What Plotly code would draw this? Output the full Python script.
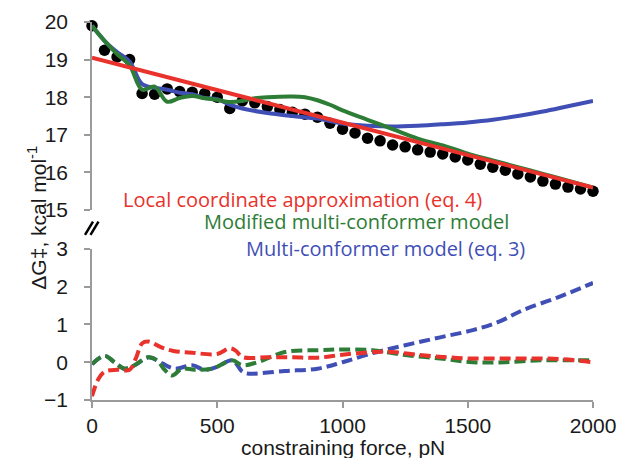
import plotly.graph_objects as go

# ---------------- data ----------------
force_dots = list(range(0, 2001, 50))
dG_dots = [19.9, 19.25, 19.07, 19.0, 18.1, 18.08, 18.22, 18.15, 18.13, 18.1,
           18.0, 17.7, 17.9, 17.85, 17.75, 17.67, 17.6, 17.55, 17.47, 17.31,
           17.15, 17.05, 16.91, 16.84, 16.73, 16.68, 16.6, 16.54, 16.49, 16.41,
           16.33, 16.22, 16.14, 16.06, 15.96, 15.88, 15.77, 15.69, 15.61, 15.56, 15.5]

force_red = [0, 2000]
dG_red = [19.05, 15.6]

force_blue = [0, 50, 100, 150, 200, 250, 300, 350, 400, 450, 500, 550, 600, 700, 800,
              900, 1000, 1100, 1200, 1300, 1400, 1500, 1600, 1700, 1800, 1900, 2000]
dG_blue = [19.9, 19.5, 19.2, 18.95, 18.35, 18.25, 18.2, 18.12, 18.08, 17.98, 17.95,
           17.8, 17.7, 17.58, 17.5, 17.43, 17.3, 17.24, 17.22, 17.24, 17.28, 17.33,
           17.4, 17.5, 17.62, 17.76, 17.9]

force_green = [0, 50, 100, 150, 200, 250, 300, 350, 400, 450, 500, 550, 600, 650, 700,
               800, 850, 900, 950, 1000, 1100, 1200, 1300, 1400, 1500, 1600, 1700,
               1800, 1900, 2000]
dG_green = [19.9, 19.5, 19.15, 18.85, 18.2, 18.28, 17.88, 17.98, 18.03, 17.97, 17.93,
            17.87, 17.9, 17.97, 18.0, 18.02, 18.0, 17.92, 17.8, 17.65, 17.4, 17.15,
            16.9, 16.72, 16.5, 16.32, 16.14, 15.96, 15.78, 15.6]

force_red_d = [0, 25, 50, 100, 150, 175, 200, 225, 275, 325, 400, 500, 550, 575, 600,
               700, 800, 900, 1000, 1100, 1150, 1200, 1300, 1400, 1500, 1600, 1700,
               1800, 1900, 2000]
diff_red = [-0.9, -0.45, -0.25, -0.2, -0.2, 0.1, 0.5, 0.55, 0.4, 0.3, 0.25, 0.22, 0.37,
            0.3, 0.14, 0.13, 0.13, 0.12, 0.2, 0.26, 0.28, 0.27, 0.2, 0.14, 0.1, 0.1,
            0.1, 0.1, 0.07, 0.0]

force_green_d = [0, 50, 90, 130, 170, 225, 260, 290, 320, 360, 410, 480, 560, 600,
                 660, 770, 900, 1000, 1120, 1250, 1390, 1520, 1650, 1790, 1920, 2000]
diff_green = [-0.05, 0.17, 0.0, -0.17, -0.08, 0.13, 0.05, -0.2, -0.35, -0.17, -0.2,
              -0.17, 0.05, -0.08, 0.0, 0.27, 0.32, 0.34, 0.32, 0.19, 0.1, 0.0, 0.0,
              0.05, 0.05, 0.05]

force_blue_d = [0, 50, 90, 130, 170, 225, 280, 330, 400, 450, 500, 560, 600, 620, 770,
                900, 1000, 1120, 1250, 1390, 1520, 1620, 1720, 1860, 2000]
diff_blue = [-0.05, 0.17, 0.0, -0.17, -0.08, 0.13, -0.03, -0.17, -0.08, -0.2, -0.12,
             0.05, -0.25, -0.3, -0.23, -0.17, 0.0, 0.24, 0.45, 0.66, 0.85, 1.06, 1.38,
             1.72, 2.1]

x_ticks = [0, 500, 1000, 1500, 2000]
top_ticks = [15, 16, 17, 18, 19, 20]
bottom_ticks = [-1, 0, 1, 2, 3]

label_texts = ["Local coordinate approximation (eq. 4)",
               "Modified multi-conformer model",
               "Multi-conformer model (eq. 3)"]

RED = "#e8322b"
GREEN = "#2d7d36"
BLUE = "#3f4fb5"

# ---------------- figure ----------------
fig = go.Figure()

# top panel
fig.add_trace(go.Scatter(x=force_dots, y=dG_dots, yaxis="y2", mode="markers",
                         marker=dict(color="black", size=11.5), cliponaxis=False))
fig.add_trace(go.Scatter(x=force_blue, y=dG_blue, yaxis="y2", mode="lines",
                         line=dict(color=BLUE, width=4, shape="spline")))
fig.add_trace(go.Scatter(x=force_green, y=dG_green, yaxis="y2", mode="lines",
                         line=dict(color=GREEN, width=4, shape="spline")))
fig.add_trace(go.Scatter(x=force_red, y=dG_red, yaxis="y2", mode="lines",
                         line=dict(color=RED, width=4)))

# bottom panel
dash = "11px,5px"
fig.add_trace(go.Scatter(x=force_blue_d, y=diff_blue, mode="lines",
                         line=dict(color=BLUE, width=4, dash=dash, shape="spline")))
fig.add_trace(go.Scatter(x=force_green_d, y=diff_green, mode="lines",
                         line=dict(color=GREEN, width=4, dash=dash, shape="spline")))
fig.add_trace(go.Scatter(x=force_red_d, y=diff_red, mode="lines",
                         line=dict(color=RED, width=4, dash=dash, shape="spline")))

tickfont = dict(family="Liberation Sans, Arial, sans-serif", size=21, color="#1a1a1a")
axis_common = dict(showline=True, linecolor="#9a9a9a", linewidth=1.5, ticks="outside",
                   tickcolor="#9a9a9a", ticklen=6, tickwidth=1.5, showgrid=False,
                   zeroline=False, tickfont=tickfont, automargin=False)

fig.update_layout(
    width=622, height=458,
    margin=dict(l=92, r=29, t=22, b=58),
    paper_bgcolor="white", plot_bgcolor="white",
    showlegend=False,
    xaxis=dict(range=[0, 2000], tickvals=x_ticks, anchor="y",
               ticklabelstandoff=0, **axis_common),
    yaxis=dict(range=[-1, 3], tickvals=bottom_ticks, domain=[0, 0.3995],
               ticklabelstandoff=12, **axis_common),
    yaxis2=dict(range=[15, 20], tickvals=top_ticks, domain=[0.5026, 1], anchor="x",
                ticklabelstandoff=12, **axis_common),
)

# axis titles
fig.add_annotation(text="constraining force, pN", xref="paper", yref="paper",
                   x=0.5, y=-0.125, yanchor="middle", showarrow=False,
                   font=dict(family="Liberation Sans, Arial, sans-serif", size=21,
                             color="#1a1a1a"))
fig.add_annotation(text="ΔG‡, kcal mol<sup>-1</sup>", xref="paper", yref="paper",
                   x=-0.14, y=0.482, textangle=-90, showarrow=False,
                   font=dict(family="Liberation Sans, Arial, sans-serif", size=21,
                             color="#1a1a1a"))

# in-plot labels (paper coordinates)
lab_font = "Open Sans, Noto Sans, sans-serif"
for txt, col, px, py in zip(label_texts, [RED, GREEN, BLUE],
                            [0.42, 0.527, 0.586], [0.531, 0.471, 0.400]):
    fig.add_annotation(text=txt, x=px, y=py, xref="paper", yref="paper",
                       showarrow=False, font=dict(family=lab_font, size=20, color=col))

# axis break marks
for dx in (0.0, 0.011):
    fig.add_shape(type="line", xref="paper", yref="paper",
                  x0=-0.014 + dx, y0=0.437, x1=0.002 + dx, y1=0.472,
                  line=dict(color="black", width=2.5))

fig.write_html("out.html", config={"displayModeBar": False},
               post_script="document.body.style.margin='0';")
